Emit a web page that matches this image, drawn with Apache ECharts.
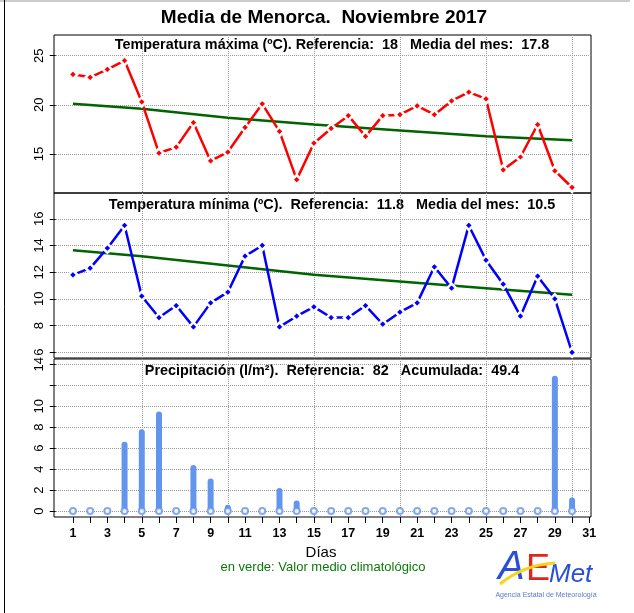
<!DOCTYPE html>
<html>
<head>
<meta charset="utf-8">
<script src="https://cdn.jsdelivr.net/npm/echarts@6/dist/echarts.min.js"></script>
<style>
  html, body { margin: 0; padding: 0; background: #fff; }
  #chart { width: 634px; height: 613px; }
</style>
</head>
<body>
<div id="chart"></div>
<script>
var dias = [1,2,3,4,5,6,7,8,9,10,11,12,13,14,15,16,17,18,19,20,21,22,23,24,25,26,27,28,29,30];
var tmax = [23.1,22.8,23.6,24.5,20.3,15.1,15.7,18.2,14.3,15.2,17.7,20.1,17.3,12.4,16.1,
            17.6,18.9,16.8,18.9,19.0,19.9,19.0,20.4,21.3,20.6,13.4,14.7,18.0,13.3,11.6];
var tmin = [11.8,12.3,13.8,15.5,10.2,8.6,9.5,7.9,9.7,10.5,13.2,14.0,7.9,8.7,9.4,
            8.6,8.6,9.5,8.1,9.0,9.7,12.4,10.8,15.5,12.9,11.1,8.7,11.7,10.0,6.0];
var prec = [0,0,0,6.6,7.8,9.5,0,4.4,3.1,0.6,0,0,2.2,1.0,0,
            0,0,0,0,0,0,0,0,0,0,0,0,0,12.9,1.3];
var climDias = [1,5,10,15,20,25,30];
var climMax = [20.1,19.6,18.7,18.0,17.4,16.8,16.4];
var climMin = [13.65,13.2,12.5,11.8,11.3,10.8,10.3];

var ticksDias = [1,2,3,4,5,6,7,8,9,10,11,12,13,14,15,16,17,18,19,20,21,22,23,24,25,26,27,28,29,30,31];
var labelsDias = [1,3,5,7,9,11,13,15,17,19,21,23,25,27,29,31];
var gridDias = [5,10,15,20,25,30];
var ticksMax = [15,20,25];
var ticksMin = [6,8,10,12,14,16];
var ticksPrec = [0,2,4,6,8,10,12,14];

function pares(xs, ys) {
    return xs.map(function (x, i) { return [x, ys[i]]; });
}

var fuente = 'Liberation Sans, Arial, Helvetica, sans-serif';
var dotted = { show: true, lineStyle: { color: '#999', type: 'dotted', width: 1 } };

function ejeX(grid) {
    return {
        type: 'value', gridIndex: grid, min: -0.1, max: 31.1, position: 'bottom',
        axisLine: { show: false },
        axisTick: { show: false, customValues: gridDias },
        axisLabel: { show: false },
        splitLine: dotted
    };
}

function ejeY(grid, min, max, ticks, hide) {
    return {
        type: 'value', gridIndex: grid, min: min, max: max,
        axisLine: { show: false },
        axisTick: { show: true, inside: false, length: 6, customValues: ticks,
                    lineStyle: { color: '#000', width: 1 } },
        axisLabel: {
            show: true, rotate: 90, margin: 8, customValues: ticks,
            color: '#000', fontSize: 13, fontFamily: fuente,
            formatter: function (v) { return v === hide ? '' : String(v); }
        },
        splitLine: dotted
    };
}

var chart = echarts.init(document.getElementById('chart'));

var option = {
    animation: false,
    backgroundColor: '#fff',
    grid: [
        { left: 54, top: 35, width: 537, height: 158, show: true, borderColor: '#000', borderWidth: 1, backgroundColor: 'transparent' },
        { left: 54, top: 193, width: 537, height: 165, show: true, borderColor: '#000', borderWidth: 1, backgroundColor: 'transparent' },
        { left: 54, top: 359, width: 537, height: 158, show: true, borderColor: '#000', borderWidth: 1, backgroundColor: 'transparent' }
    ],
    xAxis: [
        ejeX(0),
        ejeX(1),
        ejeX(2),
        {
            type: 'value', gridIndex: 2, min: -0.1, max: 31.1, position: 'bottom',
            axisLine: { show: false },
            axisTick: { show: true, length: 6, customValues: ticksDias, lineStyle: { color: '#000' } },
            axisLabel: { show: true, customValues: labelsDias, margin: 10, color: '#000',
                         fontWeight: 'bold', fontSize: 12.5, fontFamily: fuente },
            splitLine: { show: false }
        }
    ],
    yAxis: [
        ejeY(0, 11.04, 27.1, ticksMax, null),
        ejeY(1, 5.57, 17.93, ticksMin, null),
        ejeY(2, -0.57, 14.5, ticksPrec, 12)
    ],
    series: [
        {
            type: 'line', xAxisIndex: 0, yAxisIndex: 0, data: pares(climDias, climMax),
            symbol: 'none', lineStyle: { color: '#006400', width: 2.5 }, z: 2
        },
        {
            type: 'line', xAxisIndex: 0, yAxisIndex: 0, data: pares(dias, tmax),
            symbol: 'diamond', symbolSize: 9,
            lineStyle: { color: '#ff0000', width: 2.5 },
            itemStyle: { color: '#ff0000', borderColor: '#fff', borderWidth: 2.5 }, z: 3
        },
        {
            type: 'line', xAxisIndex: 1, yAxisIndex: 1, data: pares(climDias, climMin),
            symbol: 'none', lineStyle: { color: '#006400', width: 2.5 }, z: 2
        },
        {
            type: 'line', xAxisIndex: 1, yAxisIndex: 1, data: pares(dias, tmin),
            symbol: 'diamond', symbolSize: 9,
            lineStyle: { color: '#0000ff', width: 2.5 },
            itemStyle: { color: '#0000ff', borderColor: '#fff', borderWidth: 2.5 }, z: 3
        },
        {
            type: 'bar', xAxisIndex: 2, yAxisIndex: 2, data: pares(dias, prec),
            barWidth: 6, itemStyle: { color: '#6495ed', borderRadius: 3 }, z: 2
        },
        {
            type: 'scatter', xAxisIndex: 2, yAxisIndex: 2,
            data: dias.map(function (d) { return [d, 0]; }),
            symbol: 'circle', symbolSize: 6,
            itemStyle: { color: '#fff', borderColor: '#6495ed', borderWidth: 2 }, z: 3
        }
    ],
    graphic: [
        { type: 'line', shape: { x1: 0, y1: 1, x2: 630, y2: 1 }, style: { stroke: '#999', lineWidth: 1 } },
        { type: 'line', shape: { x1: 4.5, y1: 0, x2: 4.5, y2: 613 }, style: { stroke: '#000', lineWidth: 1 } },
        { type: 'text', x: 324, y: 18, style: { text: 'Media de Menorca.  Noviembre 2017', fill: '#000',
            font: 'bold 19px ' + fuente, textAlign: 'center', textVerticalAlign: 'middle' } },
        { type: 'text', x: 332, y: 45, style: { text: 'Temperatura máxima (ºC). Referencia:  18   Media del mes:  17.8',
            fill: '#000', font: 'bold 14.4px ' + fuente, textAlign: 'center', textVerticalAlign: 'middle' } },
        { type: 'text', x: 332, y: 205, style: { text: 'Temperatura mínima (ºC).  Referencia:  11.8   Media del mes:  10.5',
            fill: '#000', font: 'bold 14.4px ' + fuente, textAlign: 'center', textVerticalAlign: 'middle' } },
        { type: 'text', x: 332, y: 371, style: { text: 'Precipitación (l/m²).  Referencia:  82   Acumulada:  49.4',
            fill: '#000', font: 'bold 14.4px ' + fuente, textAlign: 'center', textVerticalAlign: 'middle' } },
        { type: 'text', x: 321, y: 553, style: { text: 'Días', fill: '#000', font: '15px ' + fuente,
            textAlign: 'center', textVerticalAlign: 'middle' } },
        { type: 'text', x: 323, y: 567, style: { text: 'en verde: Valor medio climatológico', fill: '#0a7a0a',
            font: '13px ' + fuente, textAlign: 'center', textVerticalAlign: 'middle' } },
        // logo AEMet
        { type: 'bezierCurve', shape: { x1: 500, y1: 584, cpx1: 515, cpy1: 572, cpx2: 535, cpy2: 564, x2: 555, y2: 563 },
          style: { stroke: '#f5d51a', lineWidth: 3, fill: null }, z: 10 },
        { type: 'text', x: 498, y: 588, style: { text: 'A', fill: '#2a4fd6', font: 'italic 40px ' + fuente,
            textAlign: 'left', textVerticalAlign: 'bottom' }, z: 9 },
        { type: 'text', x: 526, y: 588, style: { text: 'E', fill: '#e0261b', font: '36px ' + fuente,
            textAlign: 'left', textVerticalAlign: 'bottom' }, z: 9 },
        { type: 'text', x: 549, y: 588, style: { text: 'Met', fill: '#2a4fd6', font: 'italic 26px ' + fuente,
            textAlign: 'left', textVerticalAlign: 'bottom' }, z: 9 },
        { type: 'text', x: 546, y: 595, style: { text: 'Agencia Estatal de Meteorología', fill: '#5a7ad8',
            font: '7px ' + fuente, textAlign: 'center', textVerticalAlign: 'middle' } }
    ]
};

chart.setOption(option);
</script>
</body>
</html>
